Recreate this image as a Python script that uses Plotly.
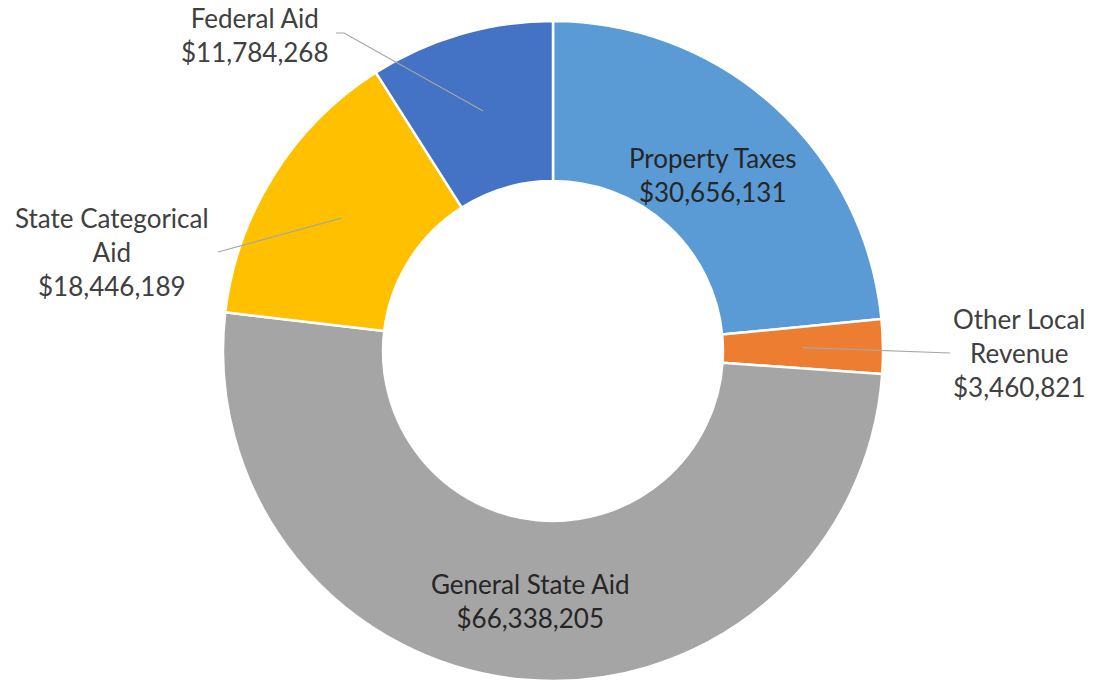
import math
import plotly.graph_objects as go

# ---- data ----
categories = ["Property Taxes", "Other Local Revenue", "General State Aid",
              "State Categorical Aid", "Federal Aid"]
label_text = ["Property Taxes", "Other Local<br>Revenue", "General State Aid",
              "State Categorical<br>Aid", "Federal Aid"]
values = [30656131, 3460821, 66338205, 18446189, 11784268]
colors = ["#5B9BD5", "#ED7D31", "#A5A5A5", "#FFC000", "#4472C4"]

# ---- layout geometry (pixels) ----
W, H = 1109, 683
CX, CY, R = 553, 351, 330
HOLE = 0.515
FONT = dict(family="Lato, 'Open Sans', sans-serif", size=26, color="#404040")
LEADER_COLOR = "#A6A6A6"

# outside label placement style: (label center px, leader end pts px)
outside = {
    "Federal Aid": ((255, 35), [(344, 33), (336, 33)]),
    "State Categorical Aid": ((112, 252), [(218, 252)]),
    "Other Local Revenue": ((1019, 353), [(950, 353)]),
}
# inside label radial placement (fraction of outer radius)
inside_r = {"Property Taxes": 0.72, "General State Aid": 0.76}


def px(x):
    return x / W


def py(y):
    return 1 - y / H


def polar(theta_deg, r):
    t = math.radians(theta_deg)
    return CX + r * math.sin(t), CY - r * math.cos(t)


fig = go.Figure(go.Pie(
    labels=categories, values=values, hole=HOLE, sort=False,
    direction="clockwise", rotation=0,
    marker=dict(colors=colors, line=dict(color="white", width=2.5)),
    textinfo="none", hoverinfo="label+value", showlegend=False,
    domain=dict(x=[px(CX - R), px(CX + R)], y=[py(CY + R), py(CY - R)]),
))

total = sum(values)
cum = 0
annotations, shapes = [], []
r_mid = R * (1 + HOLE) / 2
for name, txt, v in zip(categories, label_text, values):
    mid = (cum + v / 2) / total * 360
    cum += v
    value_txt = "${:,}".format(v)
    full = f"{txt}<br>{value_txt}"
    if name in outside:
        sx, sy = polar(mid, r_mid)
        (lx, ly), pts = outside[name]
        path = f"M {px(sx)} {py(sy)}"
        for (x, y) in pts:
            path += f" L {px(x)} {py(y)}"
        shapes.append(dict(type="path", xref="paper", yref="paper", path=path,
                           line=dict(color=LEADER_COLOR, width=1.2)))
        annotations.append(dict(x=px(lx), y=py(ly), xref="paper", yref="paper",
                                text=full, showarrow=False, align="center",
                                xanchor="center", yanchor="middle", font=FONT))
    else:
        sx, sy = polar(mid, R * inside_r[name])
        annotations.append(dict(x=px(sx), y=py(sy), xref="paper", yref="paper",
                                text=full, showarrow=False, align="center",
                                xanchor="center", yanchor="middle",
                                font=dict(FONT, color="#262626")))

fig.update_layout(
    width=W, height=H, margin=dict(l=0, r=0, t=0, b=0),
    paper_bgcolor="white", plot_bgcolor="white",
    annotations=annotations, shapes=shapes,
)

fig.write_html(
    "out.html",
    config={"displayModeBar": False},
    post_script="document.body.style.margin='0';document.body.style.overflow='hidden';",
)
